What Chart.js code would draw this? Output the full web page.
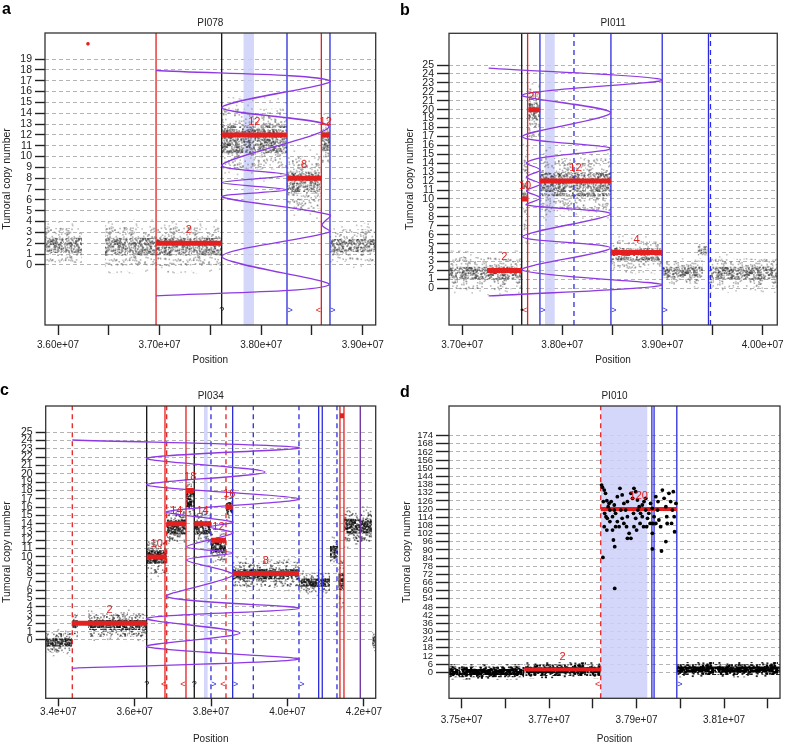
<!DOCTYPE html>
<html>
<head>
<meta charset="utf-8">
<script src="https://cdn.jsdelivr.net/npm/chart.js@4.4.0/dist/chart.umd.min.js"></script>
<style>
  body { margin: 0; background: #fff; width: 788px; height: 745px; position: relative; overflow: hidden; }
  canvas { position: absolute; }
  #pa { left: 0; top: 0; }
  #pb { left: 394px; top: 0; }
  #pc { left: 0; top: 372px; }
  #pd { left: 394px; top: 372px; }
</style>
</head>
<body>
<canvas id="pa" width="394" height="372"></canvas>
<canvas id="pb" width="394" height="372"></canvas>
<canvas id="pc" width="394" height="373"></canvas>
<canvas id="pd" width="394" height="373"></canvas>
<script>
// ---------- panel a : PI078 ----------
const aXTicks = [3.60e7, 3.65e7, 3.70e7, 3.75e7, 3.80e7, 3.85e7, 3.90e7];
const aXLabels = ['3.60e+07', '', '3.70e+07', '', '3.80e+07', '', '3.90e+07'];
const aYTicks = [0, 1, 2, 3, 4, 5, 6, 7, 8, 9, 10, 11, 12, 13, 14, 15, 16, 17, 18, 19];
const aSegStart = [3.6965e7, 3.7611e7, 3.8254e7, 3.8592e7];
const aSegEnd = [3.7611e7, 3.8254e7, 3.8592e7, 3.8677e7];
const aSegCN = [2, 12, 8, 12];
const aCloudStart = [3.5872e7, 3.6463e7, 3.7611e7, 3.8254e7, 3.8592e7, 3.8677e7];
const aCloudEnd = [3.6236e7, 3.7611e7, 3.8254e7, 3.8592e7, 3.8677e7, 3.9127e7];
const aCloudMid = [1.8, 1.7, 11.6, 7.6, 11.4, 1.8];
const aCloudCore = [0.7, 0.8, 1.3, 1.0, 0.9, 0.6];
const aCloudSpread = [1.6, 1.8, 2.8, 2.4, 2.0, 1.5];
const aRedLines = [3.6965e7, 3.8592e7];
const aRedDashLines = [];
const aBlackLines = [3.7611e7];
const aBlueLines = [3.8254e7, 3.8677e7];
const aBlueDashLines = [];
const aPurpleLines = [];
const aShadeStart = [3.7824e7];
const aShadeEnd = [3.7929e7];
const aFitX = [3.6965e7, 3.8677e7, 3.7614e7, 3.8667e7, 3.7614e7, 3.8254e7, 3.7614e7, 3.8254e7, 3.7614e7, 3.8677e7, 3.8599e7, 3.8677e7, 3.7614e7, 3.8667e7, 3.6965e7];
const aFitY = [17.94, 16.99, 14.52, 12.77, 9.23, 8.31, 7.60, 6.93, 6.28, 4.62, 3.69, 3.05, 0.77, -1.85, -2.86];
const aDotX = [3.6295e7];
const aDotY = [20.4];
const aMarkLeft = [3.8592e7];
const aMarkRight = [3.8254e7, 3.8677e7];
const aMarkBreak = [3.7611e7];

// ---------- panel b : PI011 ----------
const bXTicks = [3.70e7, 3.75e7, 3.80e7, 3.85e7, 3.90e7, 3.95e7, 4.00e7];
const bXLabels = ['3.70e+07', '', '3.80e+07', '', '3.90e+07', '', '4.00e+07'];
const bYTicks = [0, 1, 2, 3, 4, 5, 6, 7, 8, 9, 10, 11, 12, 13, 14, 15, 16, 17, 18, 19, 20, 21, 22, 23, 24, 25];
const bSegStart = [3.7248e7, 3.7594e7, 3.7660e7, 3.7776e7, 3.8485e7];
const bSegEnd = [3.7594e7, 3.7660e7, 3.7779e7, 3.8485e7, 3.8997e7];
const bSegCN = [2, 10, 20, 12, 4];
const bCloudStart = [3.6868e7, 3.7594e7, 3.7660e7, 3.7776e7, 3.8485e7, 3.8997e7, 3.9350e7, 3.9459e7];
const bCloudEnd = [3.7594e7, 3.7660e7, 3.7776e7, 3.8485e7, 3.8997e7, 3.9403e7, 3.9450e7, 4.0146e7];
const bCloudMid = [1.7, 11.0, 19.8, 11.6, 3.8, 1.8, 4.2, 1.7];
const bCloudCore = [0.7, 0.8, 1.0, 1.3, 0.7, 0.6, 0.5, 0.7];
const bCloudSpread = [1.8, 4.5, 3.0, 3.0, 1.6, 1.3, 0.9, 1.6];
const bRedLines = [3.7653e7];
const bRedDashLines = [];
const bBlackLines = [3.7594e7];
const bBlueLines = [3.7776e7, 3.8485e7, 3.8997e7, 3.9459e7];
const bBlueDashLines = [3.8116e7, 3.9479e7];
const bPurpleLines = [];
const bShadeStart = [3.7826e7];
const bShadeEnd = [3.7925e7];
const bFitX = [3.7264e7, 3.8997e7, 3.7601e7, 3.8482e7, 3.7601e7, 3.8482e7, 3.7779e7, 3.7641e7, 3.7779e7, 3.7641e7, 3.7779e7, 3.7641e7, 3.7779e7, 3.7641e7, 3.8482e7, 3.7601e7, 3.8482e7, 3.7601e7, 3.8997e7, 3.7264e7];
const bFitY = [24.64, 23.33, 21.65, 19.66, 16.98, 15.68, 14.59, 14.03, 13.25, 12.46, 11.68, 10.90, 10.11, 9.33, 8.32, 5.78, 4.51, 2.05, 0.37, -0.86];
const bDotX = [];
const bDotY = [];
const bMarkLeft = [3.7653e7];
const bMarkRight = [3.7776e7, 3.8485e7, 3.8997e7];
const bMarkBreak = [3.7594e7];

// ---------- panel c : PI034 ----------
const cXTicks = [3.4e7, 3.6e7, 3.8e7, 4.0e7, 4.2e7];
const cXLabels = ['3.4e+07', '3.6e+07', '3.8e+07', '4.0e+07', '4.2e+07'];
const cYTicks = [0, 1, 2, 3, 4, 5, 6, 7, 8, 9, 10, 11, 12, 13, 14, 15, 16, 17, 18, 19, 20, 21, 22, 23, 24, 25];
const cSegStart = [3.4366e7, 3.6314e7, 3.6838e7, 3.7343e7, 3.7560e7, 3.7997e7, 3.8390e7, 3.8565e7, 4.1374e7];
const cSegEnd = [3.6314e7, 3.6838e7, 3.7343e7, 3.7560e7, 3.7997e7, 3.8390e7, 3.8565e7, 4.0301e7, 4.1479e7];
const cSegCN = [2, 10, 14, 18, 14, 12, 16, 8, 27];
const cCloudStart = [3.3670e7, 3.4366e7, 3.4777e7, 3.6314e7, 3.6838e7, 3.7343e7, 3.7560e7, 3.7997e7, 3.8390e7, 3.8565e7, 4.0301e7, 4.1113e7, 4.1330e7, 4.1480e7, 4.2220e7];
const cCloudEnd = [3.4366e7, 3.4520e7, 3.6314e7, 3.6838e7, 3.7343e7, 3.7560e7, 3.7997e7, 3.8390e7, 3.8565e7, 4.0301e7, 4.1113e7, 4.1330e7, 4.1480e7, 4.2212e7, 4.2310e7];
const cCloudMid = [-0.3, 1.9, 1.8, 10.0, 13.6, 17.0, 13.5, 11.2, 15.8, 7.9, 6.9, 10.6, 7.0, 13.7, 0.0];
const cCloudCore = [0.5, 0.5, 0.6, 0.8, 0.9, 1.0, 0.8, 0.7, 0.8, 0.6, 0.5, 0.7, 1.0, 0.9, 0.5];
const cCloudSpread = [1.2, 1.2, 1.4, 2.0, 2.0, 1.8, 1.8, 1.6, 1.4, 1.5, 1.2, 1.4, 2.6, 1.9, 1.0];
const cRedLines = [3.6793e7, 3.7343e7, 4.1374e7, 4.1479e7];
const cRedDashLines = [3.4366e7, 3.6838e7, 3.8390e7];
const cBlackLines = [3.6314e7, 3.7560e7];
const cBlueLines = [3.8565e7, 4.0817e7, 4.0911e7];
const cBlueDashLines = [3.7997e7, 3.9105e7, 4.0301e7, 4.1296e7];
const cPurpleLines = [4.1906e7];
const cShadeStart = [3.7814e7];
const cShadeEnd = [3.7914e7];
const cFitX = [3.4366e7, 4.0301e7, 3.6314e7, 3.9411e7, 3.6314e7, 4.0301e7, 3.6838e7, 3.8573e7, 3.7971e7, 3.8573e7, 3.7361e7, 3.8573e7, 3.7361e7, 3.8573e7, 3.6838e7, 4.0301e7, 3.6314e7, 3.8757e7, 3.6314e7, 4.0301e7, 3.4366e7];
const cFitY = [24.07, 23.14, 21.87, 20.22, 18.65, 16.97, 15.44, 14.2, 13.6, 12.88, 11.23, 10.47, 9.63, 7.82, 5.21, 3.81, 2.61, 0.84, -0.81, -2.32, -3.41];
const cDotX = [];
const cDotY = [];
const cMarkLeft = [3.6838e7, 3.7343e7, 3.8390e7];
const cMarkRight = [3.7997e7, 3.8565e7, 4.0301e7];
const cMarkBreak = [3.6314e7, 3.7560e7];

// ---------- panel d : PI010 ----------
const dXTicks = [3.75e7, 3.76e7, 3.77e7, 3.78e7, 3.79e7, 3.80e7, 3.81e7, 3.82e7];
const dXLabels = ['3.75e+07', '', '3.77e+07', '', '3.79e+07', '', '3.81e+07', ''];
const dYTicks = [0, 6, 12, 18, 24, 30, 36, 42, 48, 54, 60, 66, 72, 78, 84, 90, 96, 102, 108, 114, 120, 126, 132, 138, 144, 150, 156, 162, 168, 174];
const dSegStart = [3.7643e7, 3.7818e7];
const dSegEnd = [3.7818e7, 3.7992e7];
const dSegCN = [2, 120];
const dCloudStart = [3.7471e7, 3.7643e7, 3.7992e7];
const dCloudEnd = [3.7643e7, 3.7818e7, 3.8228e7];
const dCloudMid = [0.3, 1.5, 2.0];
const dCloudCore = [2.2, 2.2, 2.2];
const dCloudSpread = [4.0, 4.2, 4.0];
const dRedLines = [];
const dRedDashLines = [3.7818e7];
const dBlackLines = [];
const dBlueLines = [3.7935e7, 3.7940e7, 3.7992e7];
const dBlueDashLines = [];
const dPurpleLines = [];
const dShadeStart = [3.7818e7];
const dShadeEnd = [3.7925e7];
const dFitX = [];
const dFitY = [];
const dDotX = [3.7820e7, 3.7822e7, 3.7826e7, 3.7829e7, 3.7824e7, 3.7832e7, 3.7837e7, 3.7842e7, 3.7849e7, 3.7827e7,
  3.7833e7, 3.7839e7, 3.7845e7, 3.7852e7, 3.7856e7, 3.7860e7, 3.7826e7, 3.7832e7, 3.7847e7, 3.7850e7,
  3.7823e7, 3.7850e7, 3.7856e7, 3.7862e7, 3.7867e7, 3.7871e7, 3.7875e7, 3.7879e7, 3.7877e7, 3.7883e7,
  3.7887e7, 3.7879e7, 3.7887e7, 3.7891e7, 3.7894e7, 3.7898e7, 3.7902e7, 3.7906e7, 3.7909e7, 3.7913e7,
  3.7908e7, 3.7900e7, 3.7894e7, 3.7917e7, 3.7921e7, 3.7925e7, 3.7928e7, 3.7932e7, 3.7936e7, 3.7940e7,
  3.7937e7, 3.7936e7, 3.7936e7, 3.7944e7, 3.7948e7, 3.7951e7, 3.7955e7, 3.7959e7, 3.7963e7, 3.7967e7,
  3.7969e7, 3.7957e7, 3.7967e7, 3.7974e7, 3.7978e7, 3.7982e7, 3.7986e7, 3.7987e7, 3.7984e7, 3.7990e7,
  3.7980e7, 3.7864e7, 3.7867e7, 3.7871e7, 3.7852e7, 3.7845e7, 3.7839e7, 3.7835e7, 3.7830e7, 3.7893e7,
  3.7898e7, 3.7903e7, 3.7916e7, 3.7923e7, 3.7931e7, 3.7944e7, 3.7949e7, 3.7970e7, 3.7921e7, 3.7879e7,
  3.7849e7, 3.7913e7];
const dDotY = [137.7, 136.0, 134.0, 131.6, 125.5, 126.2, 124.2, 125.5, 123.0, 116.9,
  113.2, 110.8, 114.4, 116.9, 110.8, 107.1, 107.1, 104.6, 97.3, 92.4,
  84.5, 61.7, 129.1, 135.3, 130.4, 124.2, 119.3, 114.4, 107.1, 102.2,
  98.5, 98.5, 131.6, 127.9, 135.3, 132.8, 126.7, 121.8, 116.9, 114.4,
  109.5, 104.6, 107.1, 125.5, 119.3, 113.2, 116.9, 124.2, 120.6, 114.4,
  109.5, 102.2, 90.7, 129.1, 119.3, 112.0, 107.1, 134.0, 127.9, 121.8,
  114.4, 89.2, 96.1, 131.6, 125.5, 119.3, 114.4, 103.4, 132.8, 124.2,
  109.5, 119.3, 113.2, 109.5, 107.1, 104.6, 119.3, 121.8, 114.4, 116.9,
  113.2, 119.3, 107.1, 107.1, 109.5, 109.5, 125.5, 109.5, 127.9, 125.5,
  119.3, 123.0];
const dMarkLeft = [3.7818e7];
const dMarkRight = [3.7992e7];
const dMarkBreak = [];

// ---------- drawing ----------
const FONT = '"Liberation Sans", Arial, Helvetica, sans-serif';
const RED = '#e3201f';
const BLUE = '#2b2bdc';
const PURPLE = '#8d3ae3';
Chart.defaults.font.family = FONT;
Chart.defaults.color = '#222';

// speckled fill used to render the dense point clouds
function speckle(color, count, size, seed) {
    const tile = document.createElement('canvas');
    tile.width = 64; tile.height = 64;
    const g = tile.getContext('2d');
    g.fillStyle = color;
    let s = seed;
    const next = () => (s = (s * 16807) % 2147483647) / 2147483647;
    for (let i = 0; i < count; i++) {
        const px = next() * 64, py = next() * 64;
        g.fillRect(px, py, size, size);
    }
    return g.createPattern(tile, 'repeat');
}

const grayHalo = speckle('rgba(110,110,110,0.4)', 70, 1.6, 7);
const grayOuter = speckle('rgba(90,90,90,0.45)', 380, 1.6, 29);
const grayCore = speckle('rgba(45,45,45,0.45)', 1400, 1.6, 11);
const darkHalo = speckle('rgba(60,60,60,0.45)', 90, 1.6, 13);
const darkOuter = speckle('rgba(30,30,30,0.55)', 520, 1.6, 17);
const darkCore = speckle('rgba(5,5,5,0.6)', 2300, 1.6, 5);
const blackHalo = speckle('rgba(0,0,0,0.85)', 160, 2.0, 23);
const blackOuter = speckle('rgba(0,0,0,0.9)', 700, 2.0, 41);
const blackCore = speckle('rgba(0,0,0,0.95)', 2600, 2.0, 3);

function decor(p) {
    return {
        id: 'decor',
        afterDatasetsDraw(chart) {
            const {ctx, chartArea: ca, scales: {x, y}} = chart;
            ctx.save();
            ctx.beginPath();
            ctx.rect(ca.left, ca.top, ca.right - ca.left, ca.bottom - ca.top);
            ctx.clip();
            ctx.font = '11px ' + FONT;
            ctx.fillStyle = RED;
            ctx.textAlign = 'center';
            ctx.textBaseline = 'middle';
            p.segStart.forEach((s, i) => {
                const px = (x.getPixelForValue(s) + x.getPixelForValue(p.segEnd[i])) / 2;
                const py = y.getPixelForValue(p.segCN[i]) - 13;
                if (py > ca.top + 6) ctx.fillText(String(p.segCN[i]), px, py);
            });
            const my = ca.bottom - 14;
            ctx.font = '9px ' + FONT;
            ctx.fillStyle = RED;
            p.markLeft.forEach(v => ctx.fillText('<', x.getPixelForValue(v) - 3, my));
            ctx.fillStyle = BLUE;
            p.markRight.forEach(v => ctx.fillText('>', x.getPixelForValue(v) + 3, my));
            ctx.fillStyle = '#111';
            p.markBreak.forEach(v => ctx.fillText(p.breakChar, x.getPixelForValue(v), my));
            ctx.restore();
        },
        afterDraw(chart) {
            const {ctx, chartArea: ca} = chart;
            ctx.save();
            ctx.strokeStyle = '#333';
            ctx.lineWidth = 1.3;
            ctx.strokeRect(ca.left, ca.top, ca.right - ca.left, ca.bottom - ca.top);
            ctx.fillStyle = '#222';
            ctx.font = '10px ' + FONT;
            ctx.textAlign = 'center';
            ctx.textBaseline = 'middle';
            ctx.fillText(p.title, (ca.left + ca.right) / 2, ca.top - 10);
            ctx.fillStyle = '#000';
            ctx.font = 'bold 16px ' + FONT;
            ctx.textAlign = 'left';
            ctx.textBaseline = 'alphabetic';
            ctx.fillText(p.letter, p.letterX, p.letterY);
            ctx.restore();
        }
    };
}

function straight(points, color, width, dash, order) {
    return { data: points, borderColor: color, borderWidth: width, borderDash: dash, borderCapStyle: 'butt',
             pointRadius: 0, fill: false, tension: 0, order: order };
}

function drawPanel(id, p) {
    const ds = [];
    // shaded region
    p.shadeStart.forEach((s, i) => {
        ds.push({ data: [{x: s, y: p.yMax}, {x: p.shadeEnd[i], y: p.yMax}], borderColor: 'transparent',
                  borderWidth: 0, pointRadius: 0, fill: 'start', backgroundColor: 'rgba(205,208,248,0.85)', order: 90 });
    });
    // point clouds: faint halo + sparse outer band + dense core band
    p.cloudStart.forEach((s, i) => {
        [[p.cloudSpread[i] * 1.4, p.halo], [p.cloudSpread[i], p.outer], [p.cloudCore[i], p.core]].forEach(([half, pat]) => {
            const lo = p.cloudMid[i] - half, hi = p.cloudMid[i] + half;
            ds.push({ data: [{x: s, y: lo}, {x: p.cloudEnd[i], y: lo}], borderColor: 'transparent', borderWidth: 0,
                      pointRadius: 0, fill: false, order: 80 });
            ds.push({ data: [{x: s, y: hi}, {x: p.cloudEnd[i], y: hi}], borderColor: 'transparent', borderWidth: 0,
                      pointRadius: 0, fill: '-1', backgroundColor: pat, order: 80 });
        });
    });
    // breakpoint lines
    const vert = (arr, color, dash) => arr.forEach(v =>
        ds.push(straight([{x: v, y: p.yMin}, {x: v, y: p.yMax}], color, 1.3, dash, 60)));
    vert(p.blackLines, '#111', []);
    vert(p.blueLines, BLUE, []);
    vert(p.blueDashLines, BLUE, [5, 4]);
    vert(p.redLines, RED, []);
    vert(p.redDashLines, RED, [5, 4]);
    vert(p.purpleLines, '#6a2a9a', []);
    // likelihood profile
    if (p.fitX.length) {
        ds.push({ data: p.fitX.map((v, i) => ({x: v, y: p.fitY[i]})), borderColor: PURPLE, borderWidth: 1.3,
                  pointRadius: 0, fill: false, tension: 0.3, order: 50 });
    }
    // copy-number segments
    p.segStart.forEach((s, i) => {
        ds.push(straight([{x: s, y: p.segCN[i]}, {x: p.segEnd[i], y: p.segCN[i]}], RED, p.segWidth, [], 40));
    });
    // individual points
    if (p.dotX.length) {
        ds.push({ data: p.dotX.map((v, i) => ({x: v, y: p.dotY[i]})), showLine: false, pointRadius: p.dotRadius,
                  pointBorderWidth: 0, pointBackgroundColor: p.dotColor, order: 30 });
    }

    new Chart(document.getElementById(id), {
        type: 'line',
        data: { datasets: ds },
        options: {
            responsive: false,
            animation: false,
            devicePixelRatio: 1,
            events: [],
            layout: { padding: { left: 0, right: p.padRight, top: p.padTop, bottom: 0 } },
            plugins: { legend: { display: false }, tooltip: { enabled: false } },
            scales: {
                x: {
                    type: 'linear', min: p.xMin, max: p.xMax,
                    afterBuildTicks: s => { s.ticks = p.xTicks.map(v => ({value: v})); },
                    afterFit: s => { s.height = p.xAxisH; },
                    ticks: { autoSkip: false, maxRotation: 0, padding: p.xLabelPad, font: { size: 10 }, color: '#222',
                             callback: (v, i) => p.xLabels[i] },
                    grid: { drawOnChartArea: false, drawTicks: true, tickLength: p.xTickLen, tickColor: '#222', tickWidth: 1.4 },
                    border: { display: false },
                    title: { display: true, text: 'Position', font: { size: 10 }, color: '#222',
                             padding: { top: 0, bottom: p.xTitlePad } }
                },
                y: {
                    type: 'linear', min: p.yMin, max: p.yMax,
                    afterBuildTicks: s => { s.ticks = p.yTicks.map(v => ({value: v})); },
                    afterFit: s => { s.width = p.yAxisW; },
                    ticks: { autoSkip: false, padding: 3, font: { size: p.yFont }, color: '#222' },
                    grid: { color: '#b4b4b4', lineWidth: 1, drawTicks: true, tickLength: p.yTickLen,
                            tickColor: '#222', tickWidth: 1.4, tickBorderDash: [] },
                    border: { display: false, dash: [4, 3] },
                    title: { display: true, text: 'Tumoral copy number', font: { size: 10.5 }, color: '#222',
                             padding: { top: p.yTitlePad, bottom: 0 } }
                }
            }
        },
        plugins: [decor(p)]
    });
}

drawPanel('pa', {
    title: 'PI078', letter: 'a', letterX: 2, letterY: 14, breakChar: '?',
    xMin: 3.5872e7, xMax: 3.9127e7, yMin: -5.54, yMax: 21.4,
    xTicks: aXTicks, xLabels: aXLabels, yTicks: aYTicks,
    segStart: aSegStart, segEnd: aSegEnd, segCN: aSegCN, segWidth: 5,
    cloudStart: aCloudStart, cloudEnd: aCloudEnd, cloudMid: aCloudMid, cloudCore: aCloudCore, cloudSpread: aCloudSpread,
    halo: grayHalo, outer: grayOuter, core: grayCore,
    redLines: aRedLines, redDashLines: aRedDashLines, blackLines: aBlackLines, blueLines: aBlueLines,
    blueDashLines: aBlueDashLines, purpleLines: aPurpleLines, shadeStart: aShadeStart, shadeEnd: aShadeEnd,
    fitX: aFitX, fitY: aFitY, dotX: aDotX, dotY: aDotY, dotRadius: 1.8, dotColor: RED,
    markLeft: aMarkLeft, markRight: aMarkRight, markBreak: aMarkBreak,
    padTop: 33, padRight: 18.3, yAxisW: 45, xAxisH: 47, yTickLen: 10, xTickLen: 10, xLabelPad: 4,
    xTitlePad: 6, yTitlePad: 1, yFont: 10.5
});

drawPanel('pb', {
    title: 'PI011', letter: 'b', letterX: 6, letterY: 15, breakChar: '\u2022',
    xMin: 3.6868e7, xMax: 4.0146e7, yMin: -4.11, yMax: 28.55,
    xTicks: bXTicks, xLabels: bXLabels, yTicks: bYTicks,
    segStart: bSegStart, segEnd: bSegEnd, segCN: bSegCN, segWidth: 5,
    cloudStart: bCloudStart, cloudEnd: bCloudEnd, cloudMid: bCloudMid, cloudCore: bCloudCore, cloudSpread: bCloudSpread,
    halo: grayHalo, outer: grayOuter, core: grayCore,
    redLines: bRedLines, redDashLines: bRedDashLines, blackLines: bBlackLines, blueLines: bBlueLines,
    blueDashLines: bBlueDashLines, purpleLines: bPurpleLines, shadeStart: bShadeStart, shadeEnd: bShadeEnd,
    fitX: bFitX, fitY: bFitY, dotX: bDotX, dotY: bDotY, dotRadius: 1.8, dotColor: '#111',
    markLeft: bMarkLeft, markRight: bMarkRight, markBreak: bMarkBreak,
    padTop: 33.3, padRight: 8, yAxisW: 55, xAxisH: 47, yTickLen: 12, xTickLen: 10, xLabelPad: 4,
    xTitlePad: 6, yTitlePad: 10, yFont: 10.5
});

drawPanel('pc', {
    title: 'PI034', letter: 'c', letterX: 0, letterY: 23, breakChar: '?',
    xMin: 3.367e7, xMax: 4.231e7, yMin: -7.02, yMax: 28.16,
    xTicks: cXTicks, xLabels: cXLabels, yTicks: cYTicks,
    segStart: cSegStart, segEnd: cSegEnd, segCN: cSegCN, segWidth: 5,
    cloudStart: cCloudStart, cloudEnd: cCloudEnd, cloudMid: cCloudMid, cloudCore: cCloudCore, cloudSpread: cCloudSpread,
    halo: darkHalo, outer: darkOuter, core: darkCore,
    redLines: cRedLines, redDashLines: cRedDashLines, blackLines: cBlackLines, blueLines: cBlueLines,
    blueDashLines: cBlueDashLines, purpleLines: cPurpleLines, shadeStart: cShadeStart, shadeEnd: cShadeEnd,
    fitX: cFitX, fitY: cFitY, dotX: cDotX, dotY: cDotY, dotRadius: 1.8, dotColor: '#111',
    markLeft: cMarkLeft, markRight: cMarkRight, markBreak: cMarkBreak,
    padTop: 34, padRight: 18.3, yAxisW: 45.7, xAxisH: 46.7, yTickLen: 10, xTickLen: 8, xLabelPad: 0,
    xTitlePad: 0, yTitlePad: 1, yFont: 10.5
});

drawPanel('pd', {
    title: 'PI010', letter: 'd', letterX: 6, letterY: 25, breakChar: '?',
    xMin: 3.7471e7, xMax: 3.8228e7, yMin: -19.1, yMax: 195.8,
    xTicks: dXTicks, xLabels: dXLabels, yTicks: dYTicks,
    segStart: dSegStart, segEnd: dSegEnd, segCN: dSegCN, segWidth: 4,
    cloudStart: dCloudStart, cloudEnd: dCloudEnd, cloudMid: dCloudMid, cloudCore: dCloudCore, cloudSpread: dCloudSpread,
    halo: blackHalo, outer: blackOuter, core: blackCore,
    redLines: dRedLines, redDashLines: dRedDashLines, blackLines: dBlackLines, blueLines: dBlueLines,
    blueDashLines: dBlueDashLines, purpleLines: dPurpleLines, shadeStart: dShadeStart, shadeEnd: dShadeEnd,
    fitX: dFitX, fitY: dFitY, dotX: dDotX, dotY: dDotY, dotRadius: 1.9, dotColor: '#000',
    markLeft: dMarkLeft, markRight: dMarkRight, markBreak: dMarkBreak,
    padTop: 34, padRight: 8, yAxisW: 55, xAxisH: 46.7, yTickLen: 13, xTickLen: 10, xLabelPad: 6,
    xTitlePad: 0, yTitlePad: 7, yFont: 9.5
});
</script>
</body>
</html>
